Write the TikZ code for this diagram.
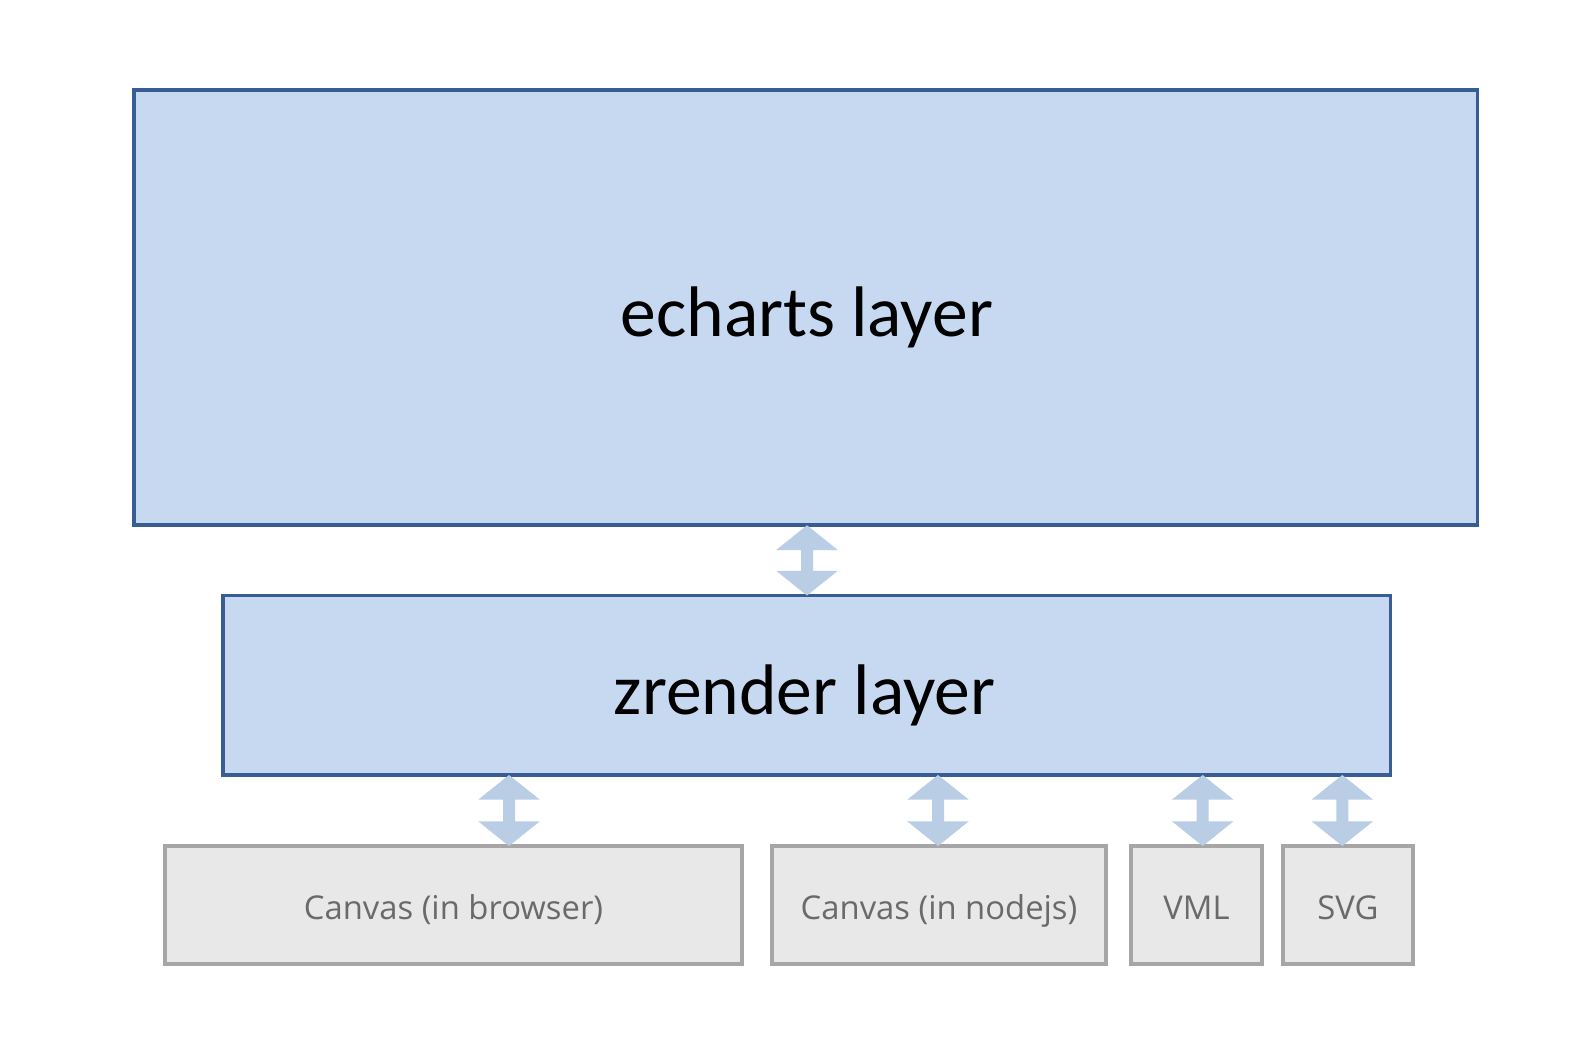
\documentclass[tikz,border=0pt]{standalone}
\usepackage{fontspec}
\setmainfont{Carlito}
\newfontfamily\boxfont{Open Sans}
\usetikzlibrary{calc}
\definecolor{bluefill}{HTML}{C6D9F1}
\definecolor{blueline}{HTML}{385D92}
\definecolor{arrowblue}{HTML}{B9CDE5}
\definecolor{grayfill}{HTML}{E8E8E8}
\definecolor{grayline}{HTML}{A6A6A6}
\definecolor{graytext}{HTML}{6A6A6A}
\newcommand\myArrow[3]{%
  \fill[arrowblue] ($(#2.south -| #1)$) -- ++(30.8,24.7) -- ++(-24.8,0)
    -- ($(#3.north -| #1)+(6,-24.7)$) -- ++(24.8,0) -- ($(#3.north -| #1)$)
    -- ++(-30.8,-24.7) -- ++(24.8,0) -- ($(#2.south -| #1)+(-6,24.7)$)
    -- ++(-24.8,0) -- cycle;}
\begin{document}
\begin{tikzpicture}[x=0.5pt,y=-0.5pt,
  bluebox/.style={draw=blueline,fill=bluefill,line width=1.9pt,rectangle,outer sep=0pt,inner sep=0pt},
  graybox/.style={draw=grayline,fill=grayfill,line width=2pt,rectangle,outer sep=0pt,inner sep=0pt,minimum height=59pt},
  bigtext/.style={anchor=base,font=\fontsize{35.8pt}{40pt}\selectfont,text=black,inner sep=0pt},
  smalltext/.style={anchor=base,font=\boxfont\fontsize{16.4pt}{19pt}\selectfont,text=graytext,inner sep=0pt}]
\useasboundingbox[fill=white] (0,0) rectangle (1585,1037);
% boxes
\node[bluebox,minimum width=671.75pt,minimum height=217.65pt] (ec) at (805.75,307.65) {};
\node[bluebox,minimum width=583.6pt,minimum height=89.75pt] (zr) at (806.9,685.25) {};
\node[graybox,minimum width=288.2pt] (cb) at (453.5,905) {};
\node[graybox,minimum width=167pt] (cn) at (939,905) {};
\node[graybox,minimum width=65.5pt] (vml) at (1196.5,905) {};
\node[graybox,minimum width=65pt] (svg) at (1348,905) {};
% texts
\node[bigtext] (ect) at (806.7,337) {echarts layer};
\node[bigtext] (zrt) at (804.5,714) {zrender layer};
\node[smalltext] (cbt) at (453.5,919) {Canvas (in browser)};
\node[smalltext] (cnt) at (939,919) {Canvas (in nodejs)};
\node[smalltext] (vmlt) at (1196.5,919) {VML};
\node[smalltext] (svgt) at (1348,919) {SVG};
% arrow axes
\coordinate (a0) at (807,0);
\coordinate (a1) at (509,0);
\coordinate (a2) at (938,0);
\coordinate (a3) at (1202.7,0);
\coordinate (a4) at (1342.3,0);
% arrows
\myArrow{a0}{ec}{zr}
\myArrow{a1}{zr}{cb}
\myArrow{a2}{zr}{cn}
\myArrow{a3}{zr}{vml}
\myArrow{a4}{zr}{svg}
\end{tikzpicture}
\end{document}
